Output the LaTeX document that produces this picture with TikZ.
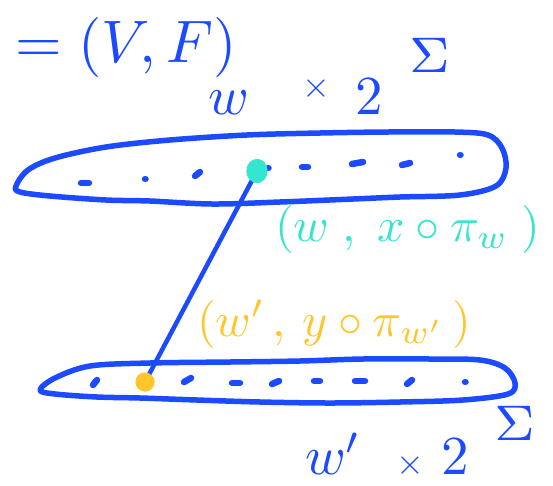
\documentclass[tikz,border=0pt]{standalone}
\usepackage{amsmath}
\usepackage{graphicx}
\definecolor{ink}{RGB}{28,74,255}
\definecolor{tealink}{RGB}{52,230,208}
\definecolor{yellink}{RGB}{255,198,44}
\tikzset{
  blob/.style={draw=ink, line width=5.5pt, line join=round},
  speck/.style={draw=ink, line width=6.5pt, line cap=round},
  tdotstyle/.style={ellipse, fill=tealink, minimum width=21pt, minimum height=24pt, inner sep=0pt},
  ydotstyle/.style={circle, fill=yellink, minimum size=19pt, inner sep=0pt},
  link/.style={draw=ink, line width=4.5pt, line cap=round},
  lbl/.style={inner sep=0pt, outer sep=0pt}
}
\usetikzlibrary{shapes.geometric}
\newcommand{\smalltimes}{\scalebox{0.65}{$\times$}}
\newcommand{\bigsig}{\scalebox{1.3}{$\scriptstyle\Sigma$}}
\begin{document}
\begin{tikzpicture}[x=1pt,y=-1pt]
\useasboundingbox (0,0) rectangle (553,485);
% top blob
\draw[blob] plot[smooth cycle, tension=0.55] coordinates {
 (16,186) (28,170) (55,158) (106,147) (170,140) (247,135) (320,133) (388,132)
 (455,132) (488,135) (502,148) (506,168) (496,186) (460,195) (400,197) (353,199)
 (280,202) (212,204) (150,201) (106,200) (50,196) (20,192)};
% bottom blob
\draw[blob] plot[smooth cycle, tension=0.55] coordinates {
 (40,390) (55,378) (90,366) (150,363) (230,362) (300,361) (363,359) (430,359)
 (480,360) (505,368) (515,383) (508,394) (463,400) (400,402) (330,403) (260,402)
 (197,400) (140,398) (97,397) (55,394)};
% top specks
\draw[speck] (81,183) -- (89,183);
\draw[speck] (145,179) -- (145.5,179);
\draw[speck] (195,176) -- (200,172);
\draw[speck] (268,168) -- (268.5,168);
\draw[speck] (302,167) -- (308,167);
\draw[speck] (352,164) -- (363,162);
\draw[speck] (402,165) -- (410,163);
\draw[speck] (460,155) -- (460.5,155);
% bottom specks
\draw[speck] (93,385) -- (97,380);
\draw[speck] (184,382) -- (191,378);
\draw[speck] (232,383) -- (240,383);
\draw[speck] (272,384) -- (279,381);
\draw[speck] (314,381) -- (320,381);
\draw[speck] (355,381) -- (365,381);
\draw[speck] (407,384) -- (412,380);
\draw[speck] (465,382) -- (465.5,382);
% marked points and link
\node[tdotstyle] (tdot) at (257,171) {};
\node[ydotstyle] (ydot) at (145,382) {};
\draw[link] (tdot.center) -- (ydot.center);
\node[tdotstyle] at (tdot) {};
\node[ydotstyle] at (ydot) {};
% labels
\node[lbl, text=ink, scale=6, anchor=base west] (title) at (15,62) {$=(V,F)$};
\node[lbl, text=ink, scale=5.5, anchor=base west] (toplbl) at (208,114)
  {$w\hspace{9.8pt}\raisebox{3pt}{\smalltimes}\hspace{4.5pt}2^{\hspace{4.9pt}\raisebox{4pt}{\bigsig}}$};
\node[lbl, text=tealink, scale=4.8, anchor=base west] (tlbl) at (275,241)
  {$(w\;,\;x\circ\pi_{w}\;)$};
\node[lbl, text=yellink, scale=4.8, anchor=base west] (ylbl) at (197,336)
  {$(w'\,,\,y\circ\pi_{w'}\,)$};
\node[lbl, text=ink, scale=5.5, anchor=base west] (botlbl) at (305,474)
  {$w'\hspace{6.4pt}\smalltimes\hspace{3.1pt}2^{\hspace{4.6pt}\raisebox{2.5pt}{\bigsig}}$};
\end{tikzpicture}
\end{document}
